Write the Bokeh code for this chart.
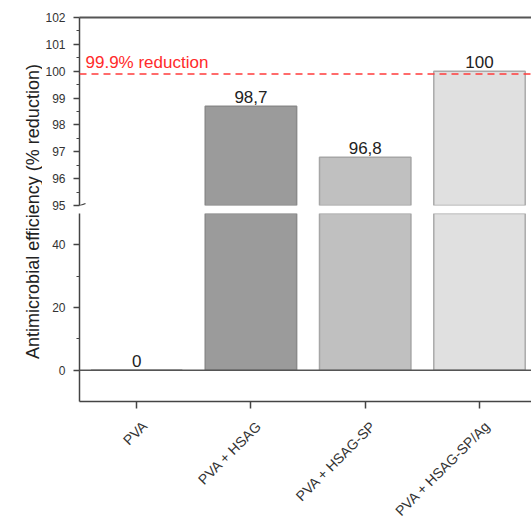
from math import pi
from bokeh.plotting import figure
from bokeh.models import Range1d, FixedTicker, LinearAxis, Span, Label, Arrow, ColumnDataSource
from bokeh.layouts import row, column
from bokeh.embed import file_html
from bokeh.resources import INLINE
from bokeh.core.properties import value

# ---------------- data ----------------
categories = ["PVA", "PVA + HSAG", "PVA + HSAG-SP", "PVA + HSAG-SP/Ag"]
efficiency = [0, 98.7, 96.8, 100]
value_labels = ["0", "98,7", "96,8", "100"]
bar_fill = ["#8a8a8a", "#9b9b9b", "#c0c0c0", "#e0e0e0"]
bar_line = ["#7a7a7a", "#8a8a8a", "#a6a6a6", "#aaaaaa"]
upper_ticks = [95, 96, 97, 98, 99, 100, 101, 102]
lower_ticks = [0, 20, 40]
lower_minor = [10, 30]
threshold = 99.9
threshold_label = "99.9% reduction"
y_title = "Antimicrobial efficiency (% reduction)"
upper_span = (95, 102)
lower_span = (-10, 50)

FONT = "Liberation Sans"
AX = "#444444"
xs = [i + 1 for i in range(len(categories))]
up_idx = [i for i, v in enumerate(efficiency) if v >= upper_span[0]]
lo_idx = [i for i, v in enumerate(efficiency) if v < upper_span[0]]


def subset(idx):
    return ColumnDataSource(dict(x=[xs[i] for i in idx], top=[efficiency[i] for i in idx],
                                 fill=[bar_fill[i] for i in idx], line=[bar_line[i] for i in idx],
                                 lab=[value_labels[i] for i in idx]))


src_all = subset(range(len(categories)))
src_up = subset(up_idx)
src_lo = subset(lo_idx)

x_range = Range1d(0.5, 4.455)
TITLE_W = 42
PLOT_W = 489
LEFT = 37
UP_FRAME = 188
LO_FRAME = 188
UP_H = 17 + UP_FRAME + 8
LO_BOTTOM = 14
LO_H = LO_FRAME + LO_BOTTOM
LAB_H = 519 - UP_H - LO_H
PX_PER_X = (PLOT_W - LEFT) / (x_range.end - x_range.start)


def style_y(ax, ticks, minor):
    ax.ticker = FixedTicker(ticks=ticks, minor_ticks=minor)
    ax.axis_line_color = AX
    ax.axis_line_width = 1.5
    ax.major_tick_line_color = AX
    ax.major_tick_line_width = 1.5
    ax.major_tick_out = 6
    ax.major_tick_in = 0
    ax.minor_tick_line_color = AX
    ax.minor_tick_line_width = 1.2
    ax.minor_tick_out = 3
    ax.minor_tick_in = 0
    ax.major_label_text_font = FONT
    ax.major_label_text_font_size = "12px"
    ax.major_label_text_color = "#333333"
    ax.major_label_standoff = 8


# ---------------- upper segment ----------------
upper = figure(width=PLOT_W, height=UP_H, x_range=x_range, y_range=Range1d(*upper_span),
               output_backend="svg", toolbar_location=None, x_axis_location=None,
               min_border_left=LEFT, min_border_right=0, min_border_top=17, min_border_bottom=8,
               outline_line_color=None)
upper.grid.visible = False
style_y(upper.yaxis[0], upper_ticks, [t + 0.5 for t in upper_ticks[:-1]])

top_ax = LinearAxis(ticker=FixedTicker(ticks=[upper_span[1]], minor_ticks=[]),
                    major_label_text_font_size="1px", major_label_text_color=None,
                    major_tick_out=0, major_tick_in=0, minor_tick_out=0, minor_tick_in=0,
                    major_label_standoff=0, axis_line_color="#555555", axis_line_width=2)
upper.add_layout(top_ax, "above")

upper.vbar(x="x", top="top", bottom=0, width=0.8, fill_color="fill", line_color="line",
           line_width=1.5, source=src_up)
upper.add_layout(Span(location=threshold, dimension="width", line_color="#ff3b3b",
                      line_dash="7 5", line_width=1.5))
upper.text(x=[x_range.start], y=[threshold], text=[threshold_label], x_offset=6, y_offset=-2,
           text_baseline="bottom", text_align="left", text_color="#ff2a2a",
           text_font=value(FONT), text_font_size="17px")
upper.text(x="x", y="top", text="lab", source=src_up, y_offset=-3,
           text_align="center", text_baseline="bottom", text_color="#222222",
           text_font=value(FONT), text_font_size="17px")

# axis-break marks, drawn just below the upper frame (offsets in pixels)
px_x = 1 / PX_PER_X
px_y = (upper_span[1] - upper_span[0]) / UP_FRAME
for y0, y1 in [(3, -2), (8, 4)]:
    upper.add_layout(Arrow(end=None, x_start=0.5 - 7 * px_x, y_start=upper_span[0] - y0 * px_y,
                           x_end=0.5 + 6 * px_x, y_end=upper_span[0] - y1 * px_y,
                           line_color=AX, line_width=1.3))

# ---------------- lower segment ----------------
lower = figure(width=PLOT_W, height=LO_H, x_range=x_range, y_range=Range1d(*lower_span),
               output_backend="svg", toolbar_location=None,
               min_border_left=LEFT, min_border_right=0, min_border_top=0,
               min_border_bottom=LO_BOTTOM, outline_line_color=None)
lower.grid.visible = False
style_y(lower.yaxis[0], lower_ticks, lower_minor)

xa = lower.xaxis[0]
xa.ticker = FixedTicker(ticks=xs, minor_ticks=[])
xa.axis_line_color = AX
xa.axis_line_width = 1.5
xa.major_tick_line_color = AX
xa.major_tick_line_width = 1.5
xa.major_tick_out = 7
xa.major_tick_in = 0
xa.minor_tick_out = 0
xa.major_label_text_font_size = "1px"
xa.major_label_text_color = None
xa.major_label_standoff = 0

lower.vbar(x="x", top="top", bottom=0, width=0.8, fill_color="fill", line_color="line",
           line_width=1.5, source=src_all)
lower.add_layout(Span(location=0, dimension="width", line_color="#555555", line_width=1.5))
lower.text(x="x", y="top", text="lab", source=src_lo, y_offset=-3,
           text_align="center", text_baseline="bottom", text_color="#222222",
           text_font=value(FONT), text_font_size="17px")

# ---------------- rotated category labels ----------------
labs = figure(width=PLOT_W, height=LAB_H, x_range=x_range, y_range=Range1d(0, LAB_H),
              output_backend="svg", toolbar_location=None, x_axis_location=None,
              y_axis_location=None, outline_line_color=None,
              min_border_left=LEFT, min_border_right=0, min_border_top=0, min_border_bottom=0)
labs.grid.visible = False
labs.text(x=xs, y=[LAB_H] * len(xs), text=categories, angle=pi / 4,
          x_offset=8, y_offset=8, text_align="right", text_baseline="alphabetic",
          text_font=value(FONT), text_font_size="14px", text_color="#333333")

# ---------------- y title ----------------
tf = figure(width=TITLE_W, height=519, x_range=Range1d(0, TITLE_W), y_range=Range1d(0, 519),
            output_backend="svg", toolbar_location=None, x_axis_location=None,
            y_axis_location=None, outline_line_color=None,
            min_border_left=0, min_border_right=0, min_border_top=0, min_border_bottom=0)
tf.grid.visible = False
tf.add_layout(Label(x=32, y=308, text=y_title, angle=pi / 2, text_align="center",
                    text_baseline="middle", text_font=FONT, text_font_size="18px",
                    text_color="#222222"))

layout = row(tf, column(upper, lower, labs))
open("out.html", "w").write(file_html(layout, INLINE))
